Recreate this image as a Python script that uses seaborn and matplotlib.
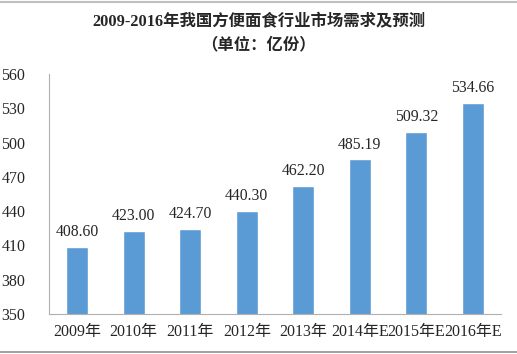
import matplotlib
matplotlib.use('Agg')
import matplotlib.pyplot as plt
from matplotlib.lines import Line2D
import seaborn as sns
import pandas as pd

years = ['2009年', '2010年', '2011年', '2012年', '2013年', '2014年E', '2015年E', '2016年E']
demand = [408.60, 423.00, 424.70, 440.30, 462.20, 485.19, 509.32, 534.66]
y_ticks = [350, 380, 410, 440, 470, 500, 530, 560]

sns.set_style('white')
plt.rcParams['font.family'] = ['Liberation Serif', 'Noto Sans CJK SC']

df = pd.DataFrame({'year': years, 'demand': demand})

fig = plt.figure(figsize=(5.17, 3.54), dpi=100)
ax = fig.add_axes([49 / 517, 40 / 354, 452 / 517, 240 / 354])

sns.barplot(data=df, x='year', y='demand', color='#5B9BD5', width=0.39,
            saturation=1, ax=ax)

ax.set_ylim(350, 560)
ax.set_yticks(y_ticks)
ax.tick_params(axis='y', length=0, labelsize=11.5, pad=17)
ax.tick_params(axis='x', length=3, direction='in', color='#b0b0b0', labelsize=11.5, pad=7)
ax.set_xlabel('')
ax.set_ylabel('')
for s in ['top', 'right']:
    ax.spines[s].set_visible(False)
for s in ['left', 'bottom']:
    ax.spines[s].set_color('#b0b0b0')
    ax.spines[s].set_linewidth(0.8)

for i, v in enumerate(demand):
    ax.text(i, v + 6, f'{v:.2f}', ha='center', va='bottom', fontsize=11.3)

fig.text(0.5, 1 - 22 / 354, '2009-2016年我国方便面食行业市场需求及预测',
         ha='center', va='center', fontsize=11.8, fontweight='bold')
fig.text(0.5, 1 - 45 / 354, '（单位：亿份）', ha='center', va='center',
         fontsize=11.8, fontweight='bold')

# top and bottom frame lines
fig.add_artist(Line2D([0, 1], [1 - 2 / 354, 1 - 2 / 354], transform=fig.transFigure,
                      color='#c0c0c0', linewidth=1.5))
fig.add_artist(Line2D([0, 1], [2 / 354, 2 / 354], transform=fig.transFigure,
                      color='#909090', linewidth=1.2))

fig.savefig('out.png', dpi=100)
